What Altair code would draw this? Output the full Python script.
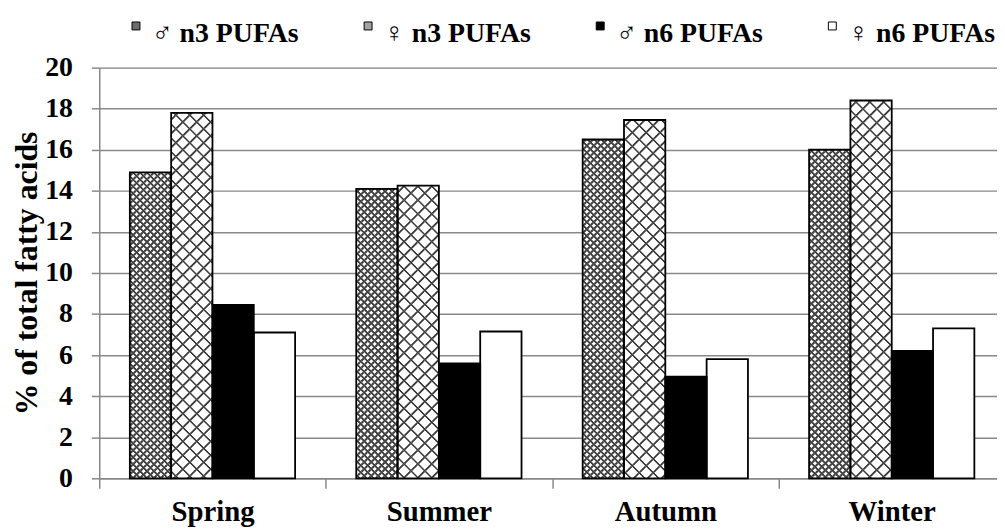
import altair as alt
import pandas as pd

# ---------------- data ----------------
seasons = ["Spring", "Summer", "Autumn", "Winter"]
series_names = ["♂ n3 PUFAs", "♀ n3 PUFAs", "♂ n6 PUFAs", "♀ n6 PUFAs"]
male_n3 = [14.9, 14.1, 16.5, 16.0]
female_n3 = [17.8, 14.25, 17.45, 18.4]
male_n6 = [8.45, 5.6, 4.95, 6.2]
female_n6 = [7.1, 7.15, 5.8, 7.3]
y_ticks = [0, 2, 4, 6, 8, 10, 12, 14, 16, 18, 20]

values_by_series = [male_n3, female_n3, male_n6, female_n6]
rows = []
for si, name in enumerate(series_names):
    for ci, season in enumerate(seasons):
        rows.append({"season": season, "series": name, "value": values_by_series[si][ci]})
df = pd.DataFrame(rows)

# ---------------- layout / style ----------------
FONT = "Liberation Serif, Times New Roman, Times, DejaVu Serif, serif"
PLOT_W = 905
RANGE_W = 913
PLOT_H = 414
YMAX = 20
PAD_OUT = 0.74
GRAY = "#898989"
step = RANGE_W / len(seasons)
bar_w = step / (len(series_names) + 2 * PAD_OUT)

swatch_colors = ["#6b6b6b", "#a3a3a3", "#000000", "#ffffff"]

# hatch styles for the n3 series: (period, thickness, line colour)
hatch = {0: (7.0, 3.0, "#404040"), 1: (14.0, 2.6, "#3c3c3c")}


def stripe_gradient(w, h, period, thick, line_col, bg_col, direction):
    S = w + h
    k = S / (w * w + h * h)
    du, dv = w * k, h * k
    if direction == "a":
        x1, y1, x2, y2 = 0, 0, du, dv
    else:
        x1, y1, x2, y2 = 0, 1, du, 1 - dv
    e = 0.6
    stops = [{"offset": 0, "color": bg_col}]
    c = period / 2.0
    while c - thick / 2 - e < S:
        for s, col in ((c - thick / 2 - e, bg_col), (c - thick / 2 + e, line_col),
                       (c + thick / 2 - e, line_col), (c + thick / 2 + e, bg_col)):
            off = min(max(s / S, 0.0), 1.0)
            stops.append({"offset": round(off, 6), "color": col})
        c += period
    return {"gradient": "linear", "x1": x1, "y1": y1, "x2": round(x2, 6), "y2": round(y2, 6),
            "stops": stops}


x_enc = alt.X(
    "season:N",
    sort=seasons,
    scale=alt.Scale(domain=seasons, range=[0, RANGE_W], paddingInner=0, paddingOuter=0),
    axis=alt.Axis(
        title=None, labelAngle=0, tickBand="extent", tickSize=10, tickWidth=1.5,
        tickColor=GRAY, domainColor=GRAY, domainWidth=1.5, grid=False,
        labelFont=FONT, labelFontSize=29, labelFontWeight="bold", labelColor="black",
        labelPadding=10,
    ),
)
xo_enc = alt.XOffset(
    "series:N", sort=series_names,
    scale=alt.Scale(domain=series_names, paddingInner=0, paddingOuter=PAD_OUT),
)
y_enc = alt.Y(
    "value:Q",
    scale=alt.Scale(domain=[0, YMAX], nice=False),
    axis=alt.Axis(
        values=y_ticks, grid=True, gridColor=GRAY, gridWidth=1.5,
        domainColor=GRAY, domainWidth=1.5, tickColor=GRAY, tickWidth=1.5, tickSize=8,
        labelFont=FONT, labelFontSize=28, labelFontWeight="bold", labelColor="black",
        labelPadding=19, title="% of total fatty acids", titleFont=FONT,
        titleFontSize=32, titleFontWeight="bold", titleColor="black", titlePadding=1,
    ),
)

base = alt.Chart(df).encode(x=x_enc, xOffset=xo_enc, y=y_enc)

bars = base.mark_bar(strokeWidth=0).encode(
    color=alt.Color(
        "series:N", sort=series_names,
        scale=alt.Scale(domain=series_names, range=swatch_colors),
        legend=alt.Legend(
            title=None, orient="none", legendX=23, legendY=-48, direction="horizontal",
            columns=4, symbolType="M-1,-3L1,-3L1,-1L-1,-1Z M0,3", symbolSize=64,
            symbolStrokeColor="black", symbolStrokeWidth=1, symbolOpacity=1,
            labelFont=FONT, labelFontSize=28, labelFontWeight="bold", labelColor="black",
            labelOffset=2, columnPadding=55, gridAlign="all", labelLimit=400, padding=0,
        ),
    )
)

layers = [bars]
for si in (0, 1):
    period, thick, lcol = hatch[si]
    for ci, season in enumerate(seasons):
        v = values_by_series[si][ci]
        h = v / YMAX * PLOT_H
        expr = f"datum.series == '{series_names[si]}' && datum.season == '{season}'"
        ga = stripe_gradient(bar_w, h, period, thick, lcol, "#ffffff", "a")
        gb = stripe_gradient(bar_w, h, period, thick, lcol, "rgba(255,255,255,0)", "b")
        layers.append(base.transform_filter(expr).mark_bar(fill=ga, strokeWidth=0))
        layers.append(base.transform_filter(expr).mark_bar(fill=gb, strokeWidth=0))

outline = base.mark_bar(fillOpacity=0, stroke="black", strokeWidth=1.8)
layers.append(outline)

chart = (
    alt.layer(*layers)
    .properties(
        width=PLOT_W, height=PLOT_H,
        autosize=alt.AutoSizeParams(type="none"),
        padding={"left": 92, "top": 58, "right": 0, "bottom": 50},
    )
    .configure_view(stroke=None)
    .configure(background="white")
)

chart.save("out.html", embed_options={"renderer": "svg", "actions": False})
